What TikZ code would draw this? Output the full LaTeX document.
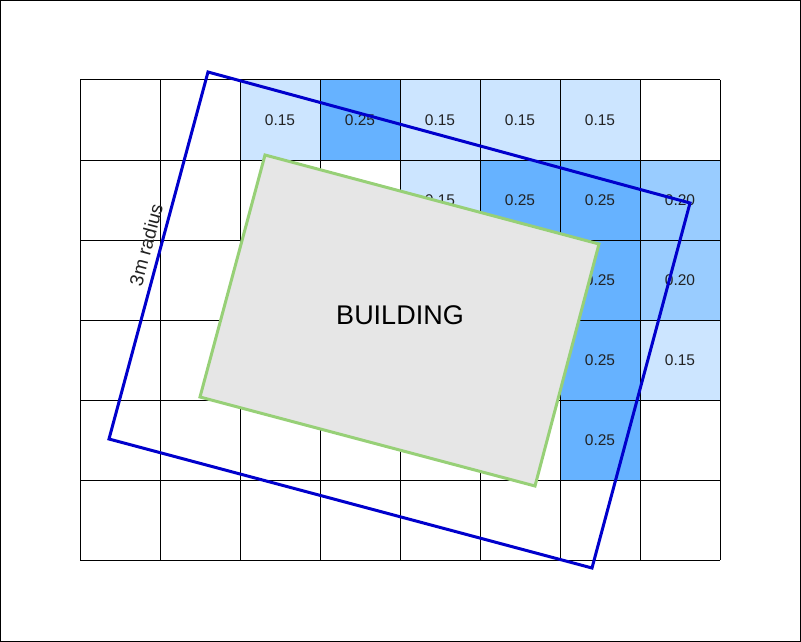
\documentclass[tikz,border=0pt]{standalone}
\usepackage{fontspec}
\setmainfont{Liberation Sans}
\definecolor{cellLight}{HTML}{CCE5FF}
\definecolor{cellMid}{HTML}{99CCFF}
\definecolor{cellDark}{HTML}{66B2FF}
\definecolor{zoneBlue}{HTML}{0000CC}
\definecolor{bldGreen}{HTML}{97D077}
\definecolor{bldGray}{HTML}{E6E6E6}
\definecolor{txtGray}{HTML}{222222}
\begin{document}
\begin{tikzpicture}[x=1pt, y=-1pt,
  valtext/.style={font=\fontsize{15.5}{18}\selectfont, text=txtGray, inner sep=0pt},
  gridline/.style={line width=1pt, black},
  zone/.style={draw=zoneBlue, line width=3pt, line join=miter},
  bld/.style={draw=bldGreen, line width=3pt, fill=bldGray, line join=miter}]
  \useasboundingbox (0,0) rectangle (801,642);
  \draw[line width=1pt] (0.5,0.5) rectangle (800.5,641.5);
  % === Cells with values ===
  \foreach \cx/\ry/\col/\val in {2/0/cellLight/0.15, 3/0/cellDark/0.25, 4/0/cellLight/0.15,
      5/0/cellLight/0.15, 6/0/cellLight/0.15, 4/1/cellLight/0.15, 5/1/cellDark/0.25,
      6/1/cellDark/0.25, 7/1/cellMid/0.20, 6/2/cellDark/0.25, 7/2/cellMid/0.20,
      6/3/cellDark/0.25, 7/3/cellLight/0.15, 6/4/cellDark/0.25}
    \fill[\col] ({80+80*\cx},{80+80*\ry}) rectangle ++(80,80);
  % === Grid ===
  \foreach \i in {0,...,8}
    \draw[gridline] ({80+80*\i},80) -- ({80+80*\i},560);
  \foreach \j in {0,...,6}
    \draw[gridline] (80,{80+80*\j}) -- (720,{80+80*\j});
  % === Values ===
  \foreach \cx/\ry/\val in {2/0/0.15, 3/0/0.25, 4/0/0.15, 5/0/0.15, 6/0/0.15,
      4/1/0.15, 5/1/0.25, 6/1/0.25, 7/1/0.20, 6/2/0.25, 7/2/0.20,
      6/3/0.25, 7/3/0.15, 6/4/0.25}
    \node[valtext] (v-\cx-\ry) at ({120+80*\cx},{120+80*\ry}) {\val};
  % === 3m radius zone ===
  \coordinate (z1) at (208,72);
  \coordinate (z2) at (690,203);
  \coordinate (z3) at (592,568);
  \coordinate (z4) at (109,439);
  \draw[zone] (z1) -- (z2) -- (z3) -- (z4) -- cycle;
  \node[rotate=75, font=\fontsize{19}{22}\selectfont, text=txtGray, inner sep=0pt] (radius) at (146,245) {3m radius};
  % === Building ===
  \draw[bld] (265,155) -- (599,244) -- (535,486) -- (200,397) -- cycle;
  \node[font=\fontsize{27}{32}\selectfont, inner sep=0pt] (building) at (400,315) {BUILDING};
\end{tikzpicture}
\end{document}
